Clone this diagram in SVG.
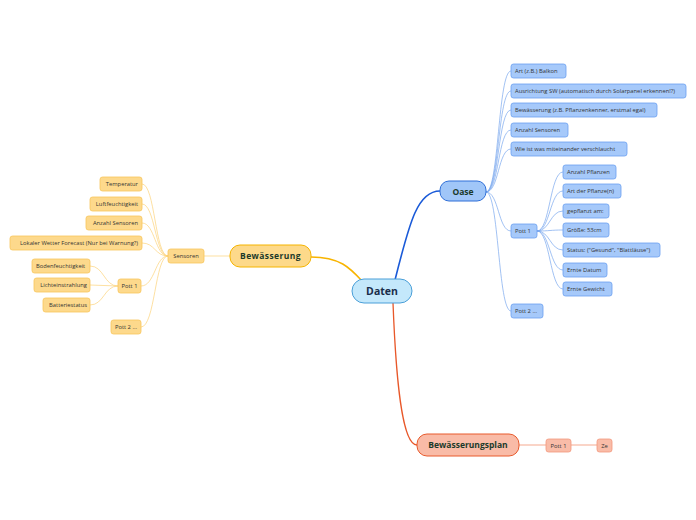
<svg xmlns="http://www.w3.org/2000/svg" width="696" height="520" viewBox="0 0 696 520">
<style>
text{font-family:"Open Sans","Noto Sans","Liberation Sans",sans-serif;fill:#333}
.s{font-size:5.8px}
.b{font-weight:bold;fill:#1b3a2a}
.bl{fill:#a6c9fa;stroke:#6a9ff0;stroke-width:0.8}
.yl{fill:#fdd98c;stroke:#f8c55a;stroke-width:0.8}
.rl{fill:#f9bca8;stroke:#f3977c;stroke-width:0.8}
.cb{fill:none;stroke:#7aa8ee;stroke-width:0.7}
.cy{fill:none;stroke:#fcd27a;stroke-width:0.7}
.cr{fill:none;stroke:#f5a98f;stroke-width:1}
</style>
<rect width="696" height="520" fill="#fff"/>
<g id="connectors">
<path d="M395,280 C410,220 418,191 440,191" fill="none" stroke="#1a5ad8" stroke-width="1.6"/>
<path d="M311,257 C340,257 350,268 362,281" fill="none" stroke="#f8b400" stroke-width="1.6"/>
<path d="M393,303 C396,380 402,445 417,445" fill="none" stroke="#e8582a" stroke-width="1.3"/>
<path class="cb" d="M486,192 C499,192 498,71 511,71"/>
<path class="cb" d="M486,192 C499,192 498,91 511,91"/>
<path class="cb" d="M486,192 C499,192 498,110 511,110"/>
<path class="cb" d="M486,192 C499,192 498,130 511,130"/>
<path class="cb" d="M486,192 C499,192 498,149 511,149"/>
<path class="cb" d="M486,192 C499,192 498,231 511,231"/>
<path class="cb" d="M486,192 C499,192 498,311 511,311"/>
<path class="cb" d="M537,231 C550,231 550,172 563,172"/>
<path class="cb" d="M537,231 C550,231 550,191 563,191"/>
<path class="cb" d="M537,231 C550,231 550,211 563,211"/>
<path class="cb" d="M537,231 C550,231 550,230 563,230"/>
<path class="cb" d="M537,231 C550,231 550,250 563,250"/>
<path class="cb" d="M537,231 C550,231 550,270 563,270"/>
<path class="cb" d="M537,231 C550,231 550,289 563,289"/>
<path class="cy" d="M230,256 L204,256"/>
<path class="cy" d="M168,256 C155,256 155,184 142,184"/>
<path class="cy" d="M168,256 C155,256 155,204 142,204"/>
<path class="cy" d="M168,256 C155,256 155,223 142,223"/>
<path class="cy" d="M168,256 C155,256 155,243 142,243"/>
<path class="cy" d="M168,256 C155,256 155,286 141,286"/>
<path class="cy" d="M168,256 C155,256 155,327 141,327"/>
<path class="cy" d="M118,286 C104,286 104,266 90,266"/>
<path class="cy" d="M118,286 L90,285"/>
<path class="cy" d="M118,286 C104,286 104,305 90,305"/>
<path class="cr" d="M519,445 L546,445"/>
<path class="cr" d="M571,445 L597,445"/>
</g>
<g id="daten"><rect x="352" y="279" width="60" height="24" rx="12" fill="#c4e8fb" stroke="#4a9fd8" stroke-width="1"/><text x="382" y="295" text-anchor="middle" class="b" font-size="10.5" style="fill:#1a2d4a">Daten</text></g>
<g id="oase"><rect x="440" y="181" width="46" height="20" rx="9" fill="#a0c6f8" stroke="#2f6fd8" stroke-width="1"/><text x="463" y="194.5" text-anchor="middle" class="b" font-size="8.5">Oase</text></g>
<g id="bewaesserung"><rect x="230" y="245" width="81" height="22" rx="10" fill="#fdd98a" stroke="#f5b400" stroke-width="1"/><text x="270.5" y="259" text-anchor="middle" class="b" font-size="8.5" letter-spacing="0.4">Bewässerung</text></g>
<g id="plan"><rect x="417" y="434" width="102" height="22" rx="10" fill="#f9bba7" stroke="#e85a2c" stroke-width="1"/><text x="468" y="448" text-anchor="middle" class="b" font-size="8.5">Bewässerungsplan</text></g>
<g id="o1"><rect class="bl" x="511" y="64" width="55" height="14" rx="2.5"/><text class="s" x="515" y="73">Art (z.B.) Balkon</text></g>
<g id="o2"><rect class="bl" x="511" y="84" width="175" height="14" rx="2.5"/><text class="s" x="515" y="93">Ausrichtung SW (automatisch durch Solarpanel erkennen!?)</text></g>
<g id="o3"><rect class="bl" x="511" y="103" width="146" height="14" rx="2.5"/><text class="s" x="515" y="112">Bewässerung (z.B. Pflanzenkenner, erstmal egal)</text></g>
<g id="o4"><rect class="bl" x="511" y="123" width="57" height="14" rx="2.5"/><text class="s" x="515" y="132">Anzahl Sensoren</text></g>
<g id="o5"><rect class="bl" x="511" y="142" width="116" height="14" rx="2.5"/><text class="s" x="515" y="151">Wie ist was miteinander verschlaucht</text></g>
<g id="o6"><rect class="bl" x="511" y="224" width="26" height="14" rx="2.5"/><text class="s" x="515" y="233">Pott 1</text></g>
<g id="o7"><rect class="bl" x="511" y="304" width="32" height="14" rx="2.5"/><text class="s" x="515" y="313">Pott 2 ...</text></g>
<g id="p1"><rect class="bl" x="563" y="165" width="53" height="14" rx="2.5"/><text class="s" x="567" y="174">Anzahl Pflanzen</text></g>
<g id="p2"><rect class="bl" x="563" y="184" width="58" height="14" rx="2.5"/><text class="s" x="567" y="193">Art der Pflanze(n)</text></g>
<g id="p3"><rect class="bl" x="563" y="204" width="46" height="14" rx="2.5"/><text class="s" x="567" y="213">gepflanzt am:</text></g>
<g id="p4"><rect class="bl" x="563" y="223" width="46" height="14" rx="2.5"/><text class="s" x="567" y="232">Größe: 53cm</text></g>
<g id="p5"><rect class="bl" x="563" y="243" width="97" height="14" rx="2.5"/><text class="s" x="567" y="252">Status: ("Gesund", "Blattläuse")</text></g>
<g id="p6"><rect class="bl" x="563" y="263" width="44" height="14" rx="2.5"/><text class="s" x="567" y="272">Ernte Datum</text></g>
<g id="p7"><rect class="bl" x="563" y="282" width="49" height="14" rx="2.5"/><text class="s" x="567" y="291">Ernte Gewicht</text></g>
<g id="sensoren"><rect class="yl" x="168" y="249" width="36" height="14" rx="2.5"/><text class="s" x="186" y="258" text-anchor="middle">Sensoren</text></g>
<g id="l1"><rect class="yl" x="100" y="177" width="42" height="14" rx="2.5"/><text class="s" x="138" y="186" text-anchor="end">Temperatur</text></g>
<g id="l2"><rect class="yl" x="90" y="197" width="52" height="14" rx="2.5"/><text class="s" x="138" y="206" text-anchor="end">Luftfeuchtigkeit</text></g>
<g id="l3"><rect class="yl" x="86" y="216" width="56" height="14" rx="2.5"/><text class="s" x="138" y="225" text-anchor="end">Anzahl Sensoren</text></g>
<g id="l4"><rect class="yl" x="10" y="236" width="132" height="14" rx="2.5"/><text class="s" x="138" y="245" text-anchor="end">Lokaler Wetter Forecast (Nur bei Warnung?)</text></g>
<g id="l5"><rect class="yl" x="118" y="279" width="23" height="14" rx="2.5"/><text class="s" x="129.5" y="288" text-anchor="middle">Pott 1</text></g>
<g id="l6"><rect class="yl" x="111" y="320" width="30" height="14" rx="2.5"/><text class="s" x="137" y="329" text-anchor="end">Pott 2 ...</text></g>
<g id="m1"><rect class="yl" x="32" y="259" width="58" height="14" rx="2.5"/><text class="s" x="36" y="268">Bodenfeuchtigkeit</text></g>
<g id="m2"><rect class="yl" x="34" y="278" width="56" height="14" rx="2.5"/><text class="s" x="87" y="287" text-anchor="end">Lichteinstrahlung</text></g>
<g id="m3"><rect class="yl" x="43" y="298" width="47" height="14" rx="2.5"/><text class="s" x="87" y="307" text-anchor="end">Batteriestatus</text></g>
<g id="r1"><rect class="rl" x="546" y="439" width="25" height="13" rx="2.5"/><text class="s" x="558.5" y="447.5" text-anchor="middle">Pott 1</text></g>
<g id="r2"><rect class="rl" x="597" y="439" width="15" height="13" rx="2.5"/><text class="s" x="604.5" y="447.5" text-anchor="middle">Ze</text></g>
</svg>
